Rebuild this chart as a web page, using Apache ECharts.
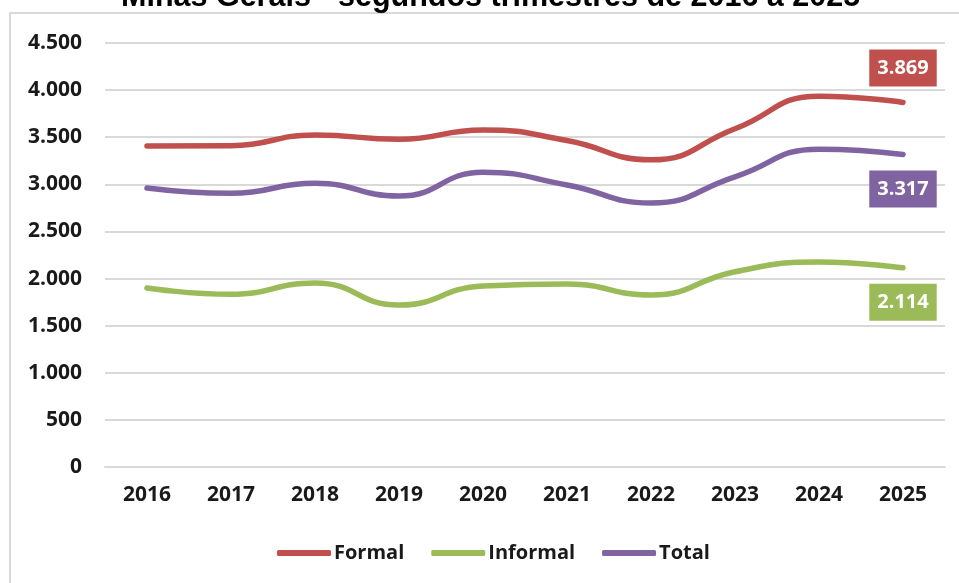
<!DOCTYPE html>
<html>
<head>
<meta charset="utf-8">
<script src="https://cdn.jsdelivr.net/npm/echarts@6/dist/echarts.min.js"></script>
<style>
html,body{margin:0;padding:0;background:#fff;}
#c{width:959px;height:583px;}
</style>
</head>
<body>
<div id="c"></div>
<script>
const titleText = 'Minas Gerais - segundos trimestres de 2016 a 2025';
const years = ['2016','2017','2018','2019','2020','2021','2022','2023','2024','2025'];
const formal = [3407, 3410, 3524, 3478, 3577, 3465, 3260, 3590, 3935, 3869];
const informal = [1900, 1833, 1953, 1719, 1921, 1942, 1825, 2072, 2176, 2114];
const total = [2961, 2905, 3012, 2876, 3128, 2993, 2802, 3080, 3373, 3317];
const seriesNames = ['Formal', 'Informal', 'Total'];
const colors = ['#C0504D', '#9BBB59', '#8064A2'];
const labelPos = ['top', 'bottom', 'bottom'];

function fmt(v){ return String(Math.round(v)).replace(/\B(?=(\d{3})+(?!\d))/g, '.'); }
const FONT = '"Open Sans", "DejaVu Sans", sans-serif';

const chart = echarts.init(document.getElementById('c'), null, {renderer:'canvas'});
const allData = [formal, informal, total];

const series = allData.map((arr, si) => ({
  name: seriesNames[si],
  type: 'line',
  smooth: 0.5,
  symbol: 'circle',
  symbolSize: 2,
  showSymbol: true,
  lineStyle: {width: 5.5, color: colors[si], cap: 'round'},
  itemStyle: {color: colors[si], borderWidth: 0},
  label: {show: false},
  data: arr.map((v, i) => {
    if (i === arr.length - 1) {
      return {value: v, label: {
        show: true, position: labelPos[si], distance: 15,
        formatter: p => fmt(p.value),
        color: '#fff', fontWeight: 'bold', fontSize: 20, fontFamily: FONT,
        backgroundColor: colors[si], padding: [6, 8, 6, 8], lineHeight: 25
      }};
    }
    return v;
  })
}));

chart.setOption({
  animation: false,
  backgroundColor: '#fff',
  title: {
    text: titleText, left: 116, top: -23,
    textStyle: {fontFamily: '"Liberation Sans", Arial, sans-serif', fontWeight: 'bold', fontSize: 30.5, color: '#000'}
  },
  graphic: [{
    type: 'rect', shape: {x: 10, y: 13, width: 1200, height: 1000},
    style: {fill: 'none', stroke: '#D9D9D9', lineWidth: 2}, silent: true, z: -10
  }],
  grid: {left: 105, right: 14, top: 43, bottom: 116, containLabel: false},
  legend: {
    left: 277, top: 543, padding: 0,
    itemWidth: 54, itemHeight: 6, itemGap: 27,
    icon: 'roundRect',
    data: seriesNames,
    textStyle: {fontFamily: FONT, fontWeight: 'bold', fontSize: 20, color: '#1a1a1a', padding: [0, 0, 0, -2]}
  },
  xAxis: {
    type: 'category', data: years, boundaryGap: true,
    axisLine: {show: true, lineStyle: {color: '#D9D9D9', width: 2}},
    axisTick: {show: false},
    axisLabel: {margin: 18, fontFamily: FONT, fontWeight: 'bold', fontSize: 21, color: '#1a1a1a'}
  },
  yAxis: {
    type: 'value', min: 0, max: 4500, interval: 500,
    axisLine: {show: false}, axisTick: {show: false},
    splitLine: {lineStyle: {color: '#D9D9D9', width: 2}},
    axisLabel: {margin: 23, fontFamily: FONT, fontWeight: 'bold', fontSize: 21, color: '#1a1a1a', formatter: v => fmt(v)}
  },
  series: series
});
</script>
</body>
</html>
